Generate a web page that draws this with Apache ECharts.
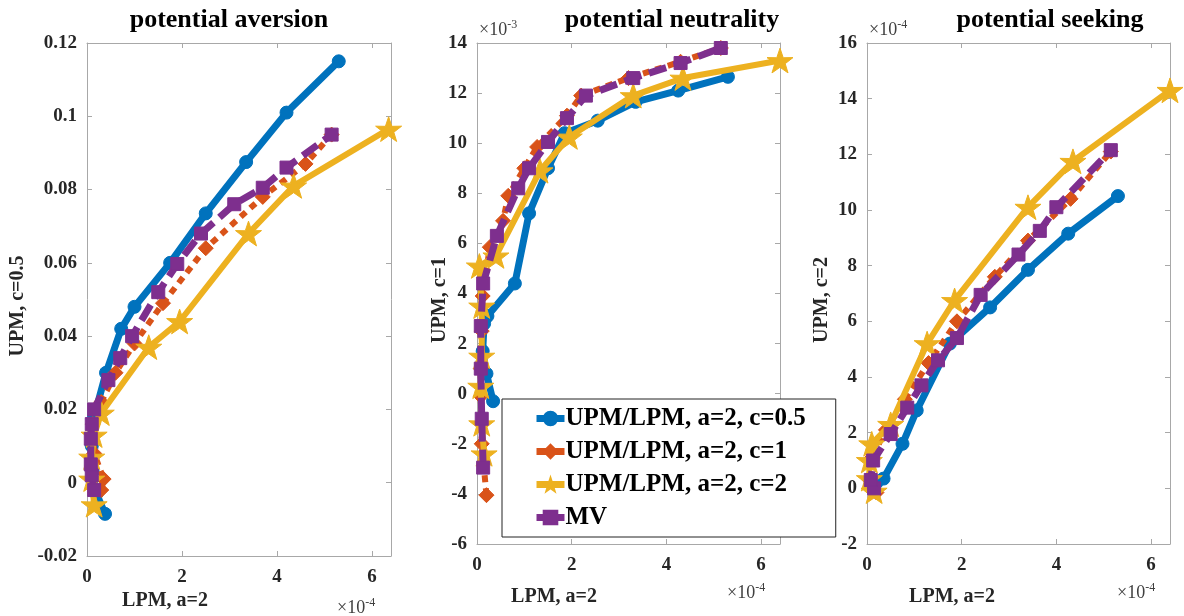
<!DOCTYPE html>
<html><head><meta charset="utf-8">
<script src="https://cdn.jsdelivr.net/npm/echarts@6/dist/echarts.min.js"></script>
<style>html,body{margin:0;padding:0;background:#fff}#c{width:1184px;height:616px}</style>
</head><body><div id="c"></div>
<script>
// x values in units of 1e-4 (LPM, a=2)
// Panel 1: potential aversion (UPM, c=0.5)
const p1Blue   = [[0.38,-0.0085],[0.2,-0.003],[0.12,0.003],[0.1,0.01],[0.15,0.018],[0.4,0.03],[0.72,0.042],[1.0,0.048],[1.75,0.060],[2.5,0.0735],[3.35,0.0875],[4.2,0.101],[5.3,0.115]];
const p1Orange = [[0.3,-0.002],[0.35,0.001],[0.15,0.008],[0.12,0.016],[0.3,0.022],[0.6,0.030],[1.0,0.038],[1.6,0.049],[2.5,0.064],[3.7,0.078],[4.6,0.087],[5.15,0.095]];
const p1Yellow = [[0.15,-0.006],[0.1,0.001],[0.1,0.007],[0.15,0.013],[0.3,0.019],[1.3,0.037],[1.95,0.044],[3.4,0.068],[4.35,0.081],[6.35,0.0965]];
const p1Purple = [[0.15,-0.002],[0.1,0.002],[0.08,0.005],[0.08,0.012],[0.1,0.016],[0.15,0.02],[0.45,0.028],[0.7,0.034],[0.95,0.040],[1.5,0.052],[1.9,0.0597],[2.4,0.068],[3.1,0.076],[3.7,0.0805],[4.2,0.086],[5.15,0.095]];
// Panel 2: potential neutrality (UPM, c=1), y in units of 1e-3
const p2Blue   = [[0.34,-0.3],[0.2,0.8],[0.12,1.7],[0.15,2.8],[0.22,3.1],[0.8,4.4],[1.1,7.2],[1.5,9.0],[1.85,10.4],[2.55,10.9],[3.35,11.65],[4.25,12.1],[5.3,12.65]];
const p2Orange = [[0.2,-4.05],[0.1,-2.0],[0.08,-0.1],[0.08,1.0],[0.1,2.5],[0.12,3.9],[0.27,5.85],[0.55,6.9],[0.66,7.9],[1.0,9.0],[1.27,9.85],[1.9,11.1],[2.2,11.9],[3.2,12.6],[4.3,13.25],[5.15,13.8]];
const p2Yellow = [[0.15,-2.4],[0.1,-1.2],[0.08,0.3],[0.1,1.5],[0.1,3.5],[0.05,5.1],[0.4,5.5],[1.33,8.9],[1.95,10.25],[3.3,11.9],[4.35,12.6],[6.4,13.3]];
const p2Purple = [[0.13,-2.95],[0.1,-1.0],[0.08,1.0],[0.08,2.7],[0.13,4.4],[0.42,6.3],[0.87,8.2],[1.1,9.0],[1.5,10.05],[1.9,11.0],[2.3,11.9],[3.3,12.6],[4.3,13.2],[5.15,13.8]];
// Panel 3: potential seeking (UPM, c=2), y in units of 1e-4
const p3Blue   = [[0.1,0.0],[0.2,0.2],[0.35,0.35],[0.75,1.6],[1.05,2.8],[1.75,5.2],[2.6,6.5],[3.4,7.85],[4.25,9.15],[5.3,10.5]];
const p3Orange = [[0.2,-0.15],[0.05,0.3],[0.1,1.1],[0.4,2.1],[0.8,3.2],[1.3,4.5],[1.9,6.0],[2.7,7.6],[3.4,8.9],[4.3,10.4],[5.15,12.1]];
const p3Yellow = [[0.15,-0.1],[0.05,0.35],[0.05,1.0],[0.1,1.6],[0.5,2.3],[1.27,5.2],[1.85,6.75],[3.4,10.1],[4.35,11.75],[6.4,14.3]];
const p3Purple = [[0.15,0.0],[0.08,0.3],[0.13,1.0],[0.5,1.95],[0.85,2.9],[1.15,3.7],[1.5,4.6],[1.9,5.4],[2.4,6.95],[3.2,8.4],[3.65,9.25],[4.0,10.1],[5.15,12.15]];

const seriesNames = ['UPM/LPM, a=2, c=0.5','UPM/LPM, a=2, c=1','UPM/LPM, a=2, c=2','MV'];
const panelTitles = ['potential aversion','potential neutrality','potential seeking'];
const yNames = ['UPM, c=0.5','UPM, c=1','UPM, c=2'];
const xName = 'LPM, a=2';
const yRanges = [[-0.02,0.12,0.02],[-6,14,2],[-2,16,2]];
const xRange = [0,6.4,2];

const panels = [[p1Blue,p1Orange,p1Yellow,p1Purple],[p2Blue,p2Orange,p2Yellow,p2Purple],[p3Blue,p3Orange,p3Yellow,p3Purple]];

const colors = ['#0072BD','#D95319','#EDB120','#7E2F8E'];
const STAR = 'path://M50,0 L61.8,35.1 L97.6,34.5 L69,56.7 L79.4,90.5 L50,70 L20.6,90.5 L31,56.7 L2.4,34.5 L38.2,35.1 Z';
const styles = [
  {symbol:'circle', size:13, width:7, type:'solid'},
  {symbol:'diamond', size:15, width:6, type:[7,6]},
  {symbol:STAR, size:26, width:6, type:'solid'},
  {symbol:'rect', size:13, width:7, type:[18,8]}
];
const grids = [
  {left:87, top:43, width:304, height:513},
  {left:477, top:43, width:303, height:501},
  {left:867, top:43, width:303, height:501}
];
const FONT = '"Liberation Serif", "Times New Roman", serif';
const axisCol = '#a8a8a8';
const labCol = '#262626';

const xAxes = [], yAxes = [], series = [];
grids.forEach((g,i)=>{
  const [ymin,ymax,yint] = yRanges[i];
  const fmtY = i===0 ? (v=>String(Number(v.toFixed(2)))) : (v=>String(Math.round(v)));
  xAxes.push({gridIndex:i, type:'value', min:xRange[0], max:xRange[1], interval:xRange[2], position:'bottom',
    axisLine:{show:true,onZero:false,lineStyle:{color:axisCol,width:1}},
    axisTick:{show:true,inside:true,length:5,lineStyle:{color:axisCol}},
    axisLabel:{show:true,showMaxLabel:false,margin:12,color:labCol,fontFamily:FONT,fontWeight:'bold',fontSize:19},
    splitLine:{show:false}});
  xAxes.push({gridIndex:i, type:'value', min:xRange[0], max:xRange[1], interval:xRange[2], position:'top',
    axisLine:{show:true,onZero:false,lineStyle:{color:axisCol,width:1}},
    axisTick:{show:true,inside:true,length:5,lineStyle:{color:axisCol}},
    axisLabel:{show:false}, splitLine:{show:false}});
  yAxes.push({gridIndex:i, type:'value', min:ymin, max:ymax, interval:yint, position:'left',
    axisLine:{show:true,onZero:false,lineStyle:{color:axisCol,width:1}},
    axisTick:{show:true,inside:true,length:5,lineStyle:{color:axisCol}},
    axisLabel:{show:true,margin:10,color:labCol,fontFamily:FONT,fontWeight:'bold',fontSize:19,formatter:fmtY},
    splitLine:{show:false}});
  yAxes.push({gridIndex:i, type:'value', min:ymin, max:ymax, interval:yint, position:'right',
    axisLine:{show:true,onZero:false,lineStyle:{color:axisCol,width:1}},
    axisTick:{show:true,inside:true,length:5,lineStyle:{color:axisCol}},
    axisLabel:{show:false}, splitLine:{show:false}});
  panels[i].forEach((data,k)=>{
    const s = styles[k];
    series.push({
      name: seriesNames[k], type:'line', xAxisIndex:i*2, yAxisIndex:i*2,
      data: data, symbol:s.symbol, symbolSize:s.size, symbolKeepAspect:true,
      showAllSymbol:true, smooth:false, animation:false, clip:false,
      lineStyle:{color:colors[k], width:s.width, type:s.type, cap:'butt', join:'round'},
      itemStyle:{color:colors[k], borderColor:colors[k], borderWidth:1},
      z: 2+k
    });
  });
});

const graphic = [];
const titleCx = [229, 672, 1050];
panelTitles.forEach((t,i)=>{
  graphic.push({type:'text', x:titleCx[i], y:20, z:10, style:{text:t, align:'center', verticalAlign:'middle',
    font:'bold 26px '+FONT, fill:'#000'}});
});
const yNameX = [18, 440, 822];
const yNameY = [306, 300, 300];
yNames.forEach((t,i)=>{
  graphic.push({type:'text', x:yNameX[i], y:yNameY[i], rotation:Math.PI/2, z:10, style:{text:t, align:'center', verticalAlign:'middle',
    font:'bold 20px '+FONT, fill:labCol}});
});
const xNameCx = [165, 554, 952];
const xNameY = [601, 597, 597];
xNameCx.forEach((cx,i)=>{
  graphic.push({type:'text', x:cx, y:xNameY[i], z:10, style:{text:xName, align:'center', verticalAlign:'middle',
    font:'bold 20px '+FONT, fill:labCol}});
});
function sci(x,y,exp){
  graphic.push({type:'text', x:x, y:y, z:10, style:{
    text:'{a|×10}{b|'+exp+'}', verticalAlign:'middle',
    rich:{a:{fontFamily:FONT,fontSize:18,fill:'#404040',color:'#404040'},
          b:{fontFamily:FONT,fontSize:12,fill:'#404040',color:'#404040',verticalAlign:'top',padding:[0,0,10,0]}}}});
}
sci(337,608,'-4'); sci(727,593,'-4'); sci(1117,593,'-4');
sci(479,30,'-3'); sci(869,30,'-4');

const option = {
  backgroundColor:'#fff',
  animation:false,
  grid: grids.map(g=>Object.assign({containLabel:false},g)),
  xAxis:xAxes, yAxis:yAxes, series:series,
  legend:{show:true, orient:'vertical', left:502, top:399, z:20,
    data:seriesNames, backgroundColor:'#fff', borderColor:'#222', borderWidth:1,
    padding:[7,30,7,31], itemGap:8, itemWidth:28, itemHeight:17,
    lineStyle:{width:7, type:'solid'},
    textStyle:{fontFamily:FONT, fontWeight:'bold', fontSize:25, color:'#000', padding:[0,0,0,-4]},
    selectedMode:false},
  graphic:graphic
};
const chart = echarts.init(document.getElementById('c'), null, {renderer:'canvas'});
chart.setOption(option);
</script></body></html>
